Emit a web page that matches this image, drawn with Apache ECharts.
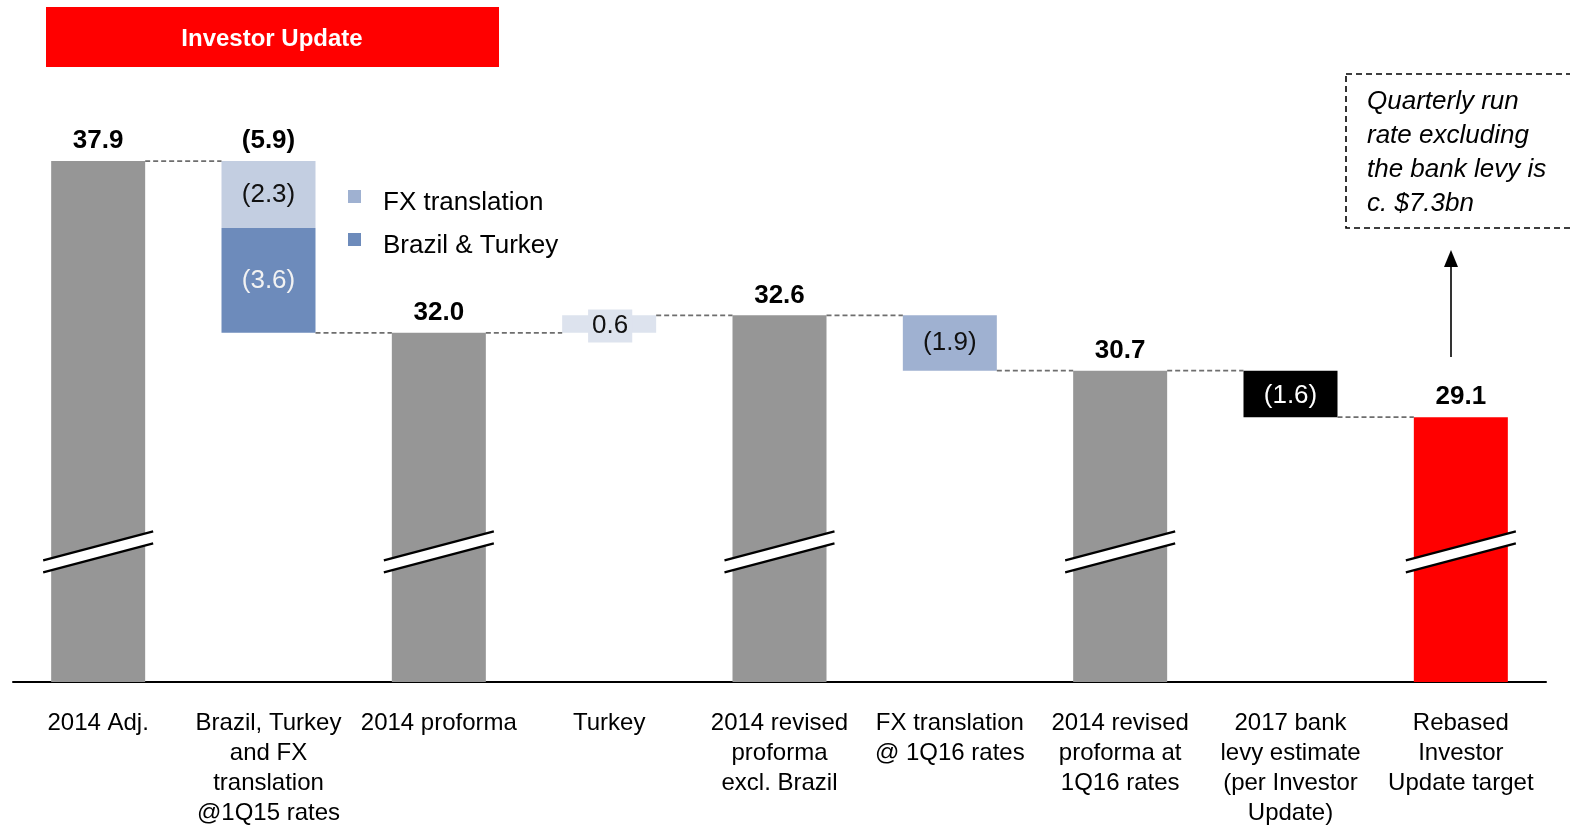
<!DOCTYPE html>
<html>
<head>
<meta charset="utf-8">
<script src="https://cdn.jsdelivr.net/npm/echarts@6/dist/echarts.min.js"></script>
<style>
html,body{margin:0;padding:0;background:#fff;}
#chart{width:1570px;height:828px;}
</style>
</head>
<body>
<div id="chart"></div>
<script>
// ---- data ----
var categories = [
  '2014 Adj.',
  'Brazil, Turkey\nand FX\ntranslation\n@1Q15 rates',
  '2014 proforma',
  'Turkey',
  '2014 revised\nproforma\nexcl. Brazil',
  'FX translation\n@ 1Q16 rates',
  '2014 revised\nproforma at\n1Q16 rates',
  '2017 bank\nlevy estimate\n(per Investor\nUpdate)',
  'Rebased\nInvestor\nUpdate target'
];
var totals      = [37.9, '-', 32.0, '-', 32.6, '-', 30.7, '-', 29.1];
var baseValues  = [0, 32.0, 0, 32.0, 0, 30.7, 0, 29.1, 0];
var brazilTurkey = ['-', 3.6, '-', '-', '-', '-', '-', '-', '-'];
var fxTranslation = ['-', 2.3, '-', '-', '-', 1.9, '-', '-', '-'];
var turkeyAdd   = ['-', '-', '-', 0.6, '-', '-', '-', '-', '-'];
var bankLevy    = ['-', '-', '-', '-', '-', '-', '-', 1.6, '-'];
var netChangeLabel = [[1, 37.9, -5.9]];          // [category, top level, net change]
var connectorLevels = [37.9, 32.0, 32.0, 32.6, 32.6, 30.7, 30.7, 29.1];
var breakBars = [0, 2, 4, 6, 8];
var annotationLines = ['Quarterly run', 'rate excluding', 'the bank levy is', 'c. $7.3bn'];

// ---- chart ----
var FONT = "'Liberation Sans', Arial, sans-serif";
var BAR_W = 94;
var BREAK_AT = 24.47;
var chart = echarts.init(document.getElementById('chart'), null, {renderer: 'canvas', width: 1570, height: 828});

function paren(v){ return '(' + Math.abs(v).toFixed(1) + ')'; }

var option = {
  animation: false,
  backgroundColor: '#ffffff',
  textStyle: {fontFamily: FONT},
  grid: {left: 13, width: 1533, top: 100, height: 584, containLabel: false},
  legend: {
    data: ['FX translation', 'Brazil & Turkey'],
    orient: 'vertical',
    left: 348, top: 190,
    padding: 0,
    icon: 'path://M0,0h13v13h-13z M0,25.99h0.01v0.01h-0.01z',
    itemWidth: 13, itemHeight: 26,
    itemGap: 17,
    selectedMode: false,
    textStyle: {fontFamily: FONT, fontSize: 26, color: '#000', padding: [0, 0, 0, 17]}
  },
  xAxis: {
    type: 'category',
    data: categories,
    axisLine: {show: true, lineStyle: {color: '#000', width: 2}},
    axisTick: {show: false},
    axisLabel: {interval: 0, fontFamily: FONT, fontSize: 24, lineHeight: 30, color: '#000', margin: 26},
    splitLine: {show: false}
  },
  yAxis: {
    type: 'value', min: 20, max: 40,
    show: false, splitLine: {show: false}
  },
  series: [
    {
      name: 'base', type: 'bar', stack: 'w', barWidth: BAR_W,
      itemStyle: {color: 'transparent'},
      emphasis: {disabled: true},
      data: baseValues
    },
    {
      name: 'Totals', type: 'bar', stack: 'w', barWidth: BAR_W,
      data: totals.map(function(v, i){
        return {value: v, itemStyle: {color: i === totals.length - 1 ? '#ff0000' : '#969696'}};
      }),
      label: {show: true, position: 'top', distance: 7, fontFamily: FONT, fontSize: 26, fontWeight: 'bold', color: '#000',
        formatter: function(p){ return Number(p.value).toFixed(1); }}
    },
    {
      name: 'Brazil & Turkey', type: 'bar', stack: 'w', barWidth: BAR_W,
      itemStyle: {color: '#6d8bbb'},
      data: brazilTurkey,
      label: {show: true, position: 'inside', fontFamily: FONT, fontSize: 26, color: '#f2f2f2',
        formatter: function(p){ return paren(p.value); }}
    },
    {
      name: 'FX translation', type: 'bar', stack: 'w', barWidth: BAR_W,
      itemStyle: {color: '#9fb1d1'},
      data: fxTranslation.map(function(v, i){
        return i === 1 ? {value: v, itemStyle: {color: '#c3cee1'}} : v;
      }),
      label: {show: true, position: 'inside', fontFamily: FONT, fontSize: 26, color: '#111',
        formatter: function(p){ return paren(p.value); }}
    },
    {
      name: 'Turkey', type: 'bar', stack: 'w', barWidth: BAR_W,
      itemStyle: {color: '#dde3ee'},
      data: turkeyAdd,
      label: {show: true, position: 'inside', fontFamily: FONT, fontSize: 26, color: '#111',
        backgroundColor: '#dde3ee', padding: [4, 4, 3, 4], lineHeight: 26, offset: [1, 2],
        formatter: function(p){ return Number(p.value).toFixed(1); }}
    },
    {
      name: 'Bank levy', type: 'bar', stack: 'w', barWidth: BAR_W,
      itemStyle: {color: '#000000'},
      data: bankLevy,
      label: {show: true, position: 'inside', fontFamily: FONT, fontSize: 26, color: '#ffffff', offset: [0, 2],
        formatter: function(p){ return paren(p.value); }}
    },
    {
      name: 'netLabel', type: 'scatter', symbolSize: 0, silent: true,
      itemStyle: {opacity: 1},
      data: netChangeLabel.map(function(d){ return {value: [d[0], d[1]], net: d[2]}; }),
      label: {show: true, position: 'top', distance: 7, opacity: 1, fontFamily: FONT, fontSize: 26, fontWeight: 'bold', color: '#000',
        formatter: function(p){ return paren(p.data.net); }}
    },
    {
      name: 'connectors', type: 'custom', silent: true, z: 5,
      data: connectorLevels.map(function(v, i){ return [i, v]; }),
      renderItem: function(params, api){
        var i = api.value(0), lv = api.value(1);
        var p1 = api.coord([i, lv]);
        var p2 = api.coord([i + 1, lv]);
        return {
          type: 'line',
          shape: {x1: p1[0] + BAR_W / 2, y1: p1[1], x2: p2[0] - BAR_W / 2, y2: p2[1]},
          style: {stroke: '#6e6e6e', lineWidth: 1.8, lineDash: [5, 3]}
        };
      }
    },
    {
      name: 'breaks', type: 'custom', silent: true, z: 6,
      data: breakBars.map(function(i){ return [i, BREAK_AT]; }),
      renderItem: function(params, api){
        var c = api.coord([api.value(0), api.value(1)]);
        var x = c[0], y = c[1];
        var hw = 55, dy = 14.5, g = 6;
        return {
          type: 'group',
          children: [
            {type: 'polygon', shape: {points: [[x - hw, y - g + dy], [x + hw, y - g - dy], [x + hw, y + g - dy], [x - hw, y + g + dy]]},
             style: {fill: '#ffffff'}},
            {type: 'line', shape: {x1: x - hw, y1: y - g + dy, x2: x + hw, y2: y - g - dy}, style: {stroke: '#000', lineWidth: 2.2}},
            {type: 'line', shape: {x1: x - hw, y1: y + g + dy, x2: x + hw, y2: y + g - dy}, style: {stroke: '#000', lineWidth: 2.2}}
          ]
        };
      }
    }
  ],
  graphic: [
    {type: 'rect', left: 46, top: 7, shape: {width: 453, height: 60}, style: {fill: '#ff0000'}},
    {type: 'text', x: 272, y: 39, style: {text: 'Investor Update', fill: '#ffffff', font: 'bold 24px ' + FONT, textAlign: 'center', textVerticalAlign: 'middle'}},
    {type: 'rect', shape: {x: 1346, y: 74, width: 240, height: 154}, style: {fill: 'none', stroke: '#000', lineWidth: 1.6, lineDash: [6, 4]}},
    {type: 'text', x: 1367, y: 85, style: {text: annotationLines.join('\n'), fill: '#000', font: 'italic 26px ' + FONT, lineHeight: 34, textAlign: 'left'}},
    {type: 'line', shape: {x1: 1451, y1: 357, x2: 1451, y2: 265}, style: {stroke: '#000', lineWidth: 1.6}},
    {type: 'polygon', shape: {points: [[1451, 250], [1444, 267], [1458, 267]]}, style: {fill: '#000'}}
  ]
};
chart.setOption(option);
</script>
</body>
</html>
